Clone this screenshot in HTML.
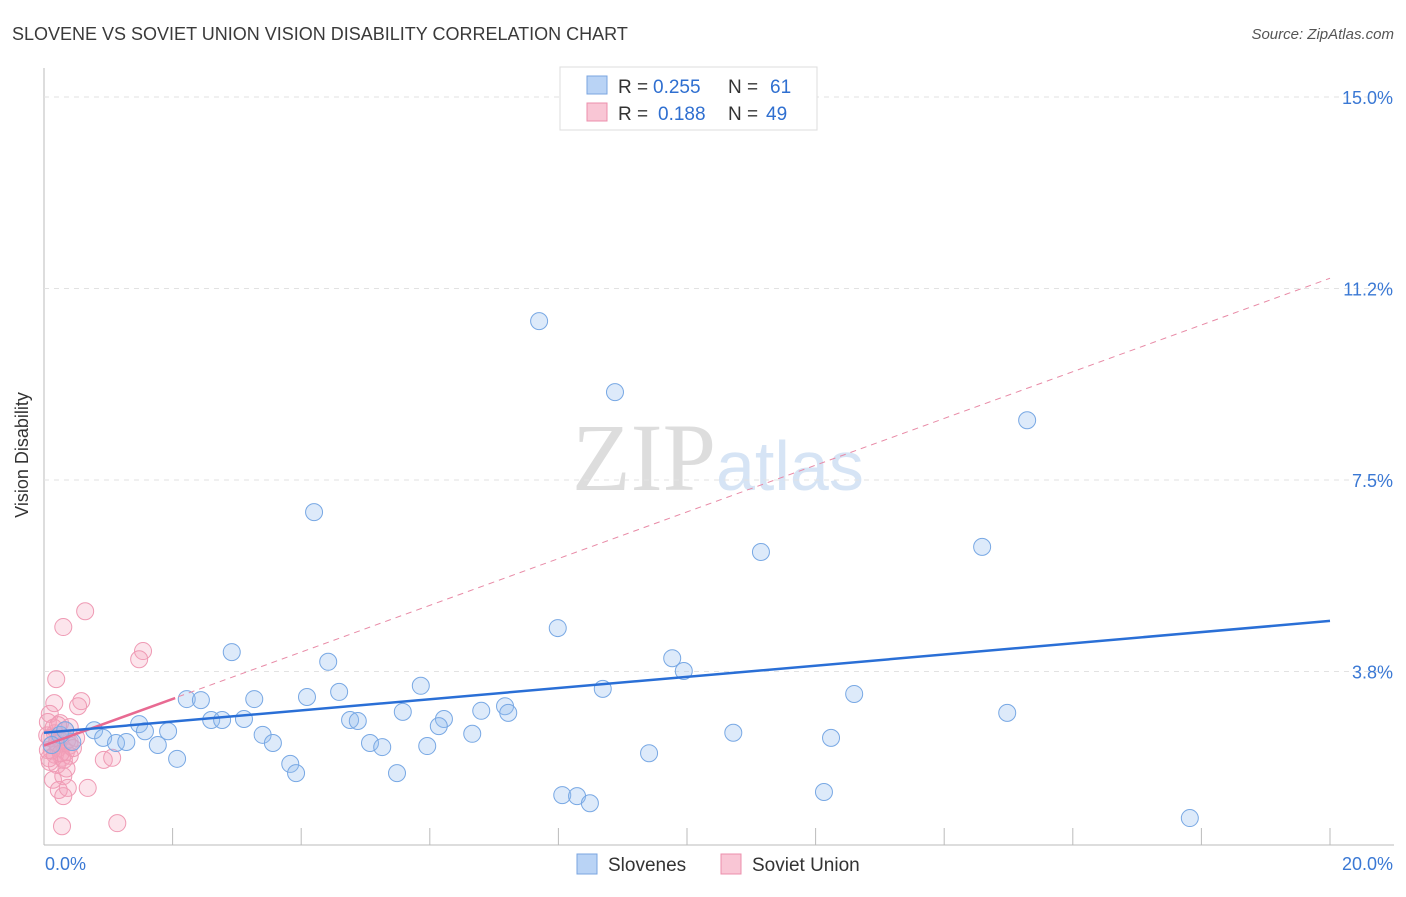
<!DOCTYPE html>
<html><head><meta charset="utf-8"><style>
body{margin:0;background:#fff;font-family:"Liberation Sans",sans-serif}
</style></head><body>
<svg id="c" width="1406" height="892" xmlns="http://www.w3.org/2000/svg">
<text x="12" y="40" font-size="18" fill="#3a3a3a">SLOVENE VS SOVIET UNION VISION DISABILITY CORRELATION CHART</text>
<text x="1394" y="39" font-size="15" fill="#555" font-style="italic" text-anchor="end">Source: ZipAtlas.com</text>
<text x="28" y="455" font-size="18" fill="#333" text-anchor="middle" transform="rotate(-90 28 455)">Vision Disability</text>
<text x="716" y="490" font-size="96" fill="#ddd" font-family="Liberation Serif,serif" text-anchor="end">ZIP</text>
<text x="716" y="490" font-size="70" fill="#d6e4f5">atlas</text>
<g id="grid"></g><g id="pts"></g><g id="lines"></g>
<g>
<rect x="560" y="67" width="257" height="63" fill="#fff" stroke="#ddd"/>
<rect x="587" y="76" width="20" height="18" fill="#b9d3f5" stroke="#7aa5e0"/>
<rect x="587" y="103" width="20" height="18" fill="#f9c6d5" stroke="#ec8fac"/>
<text y="93" font-size="19" fill="#333"><tspan x="618">R =</tspan><tspan x="653" fill="#2f6fd0">0.255</tspan><tspan x="728">N =</tspan><tspan x="770" fill="#2f6fd0">61</tspan></text>
<text y="120" font-size="19" fill="#333"><tspan x="618">R =</tspan><tspan x="658" fill="#2f6fd0">0.188</tspan><tspan x="728">N =</tspan><tspan x="766" fill="#2f6fd0">49</tspan></text>
</g>
<g>
<rect x="577" y="854" width="20" height="20" fill="#b9d3f5" stroke="#7aa5e0"/>
<text x="608" y="871" font-size="19" fill="#333">Slovenes</text>
<rect x="721" y="854" width="20" height="20" fill="#f9c6d5" stroke="#ec8fac"/>
<text x="752" y="871" font-size="19" fill="#333">Soviet Union</text>
</g>
</svg>
<script>
const yTicks=[3.75,7.5,11.25,15];
const yTickLabels=["3.8%","7.5%","11.2%","15.0%"];
const xTicks=[0,2,4,6,8,10,12,14,16,18,20];
const sloveneX=[7.70,8.88,15.29,4.20,11.15,14.59,7.99,2.92,4.42,9.77,9.95,2.22,2.44,3.27,4.09,4.59,5.86,8.69,12.60,7.17,7.22,6.80,5.58,14.98,1.48,0.78,1.57,1.93,2.60,2.77,3.11,4.76,4.88,6.22,6.14,6.66,3.40,3.56,0.92,1.12,1.28,0.44,1.77,5.07,5.26,5.96,10.72,12.24,9.41,2.07,3.83,3.92,5.49,8.06,8.29,8.49,12.13,17.82,0.25,0.12,0.33];
const sloveneY=[10.61,9.22,8.67,6.87,6.09,6.19,4.60,4.13,3.94,4.01,3.76,3.21,3.19,3.21,3.25,3.35,3.47,3.41,3.31,3.07,2.94,2.98,2.96,2.94,2.72,2.60,2.58,2.58,2.80,2.80,2.82,2.80,2.78,2.82,2.68,2.53,2.51,2.35,2.45,2.35,2.37,2.37,2.31,2.35,2.27,2.29,2.55,2.45,2.15,2.04,1.94,1.76,1.76,1.33,1.31,1.17,1.39,0.88,2.51,2.31,2.60];
const sovietX=[0.64,0.30,1.54,1.48,0.19,0.58,0.53,0.16,0.09,0.06,0.25,0.40,0.33,0.17,0.09,0.25,0.40,0.12,0.22,0.34,0.06,0.17,0.28,0.40,0.09,0.20,0.31,0.93,1.06,0.14,0.30,0.23,0.30,0.37,0.68,0.28,1.14,0.40,0.36,0.05,0.12,0.20,0.50,0.45,0.15,0.26,0.08,0.35,0.22];
const sovietY=[4.93,4.62,4.15,3.99,3.60,3.17,3.07,3.13,2.92,2.76,2.74,2.66,2.60,2.54,2.45,2.41,2.37,2.31,2.25,2.17,2.21,2.12,2.06,2.10,1.98,1.92,2.02,2.02,2.06,1.63,1.70,1.43,1.31,1.47,1.47,0.72,0.78,2.30,2.40,2.50,2.20,2.35,2.45,2.25,2.65,2.15,2.05,1.85,2.70];
const X0=44,PX=64.3,Y0=863,PY=51.07;
const sx=v=>X0+v*PX, sy=v=>Y0-v*PY;
const NS="http://www.w3.org/2000/svg";
function mk(t,a,p){const e=document.createElementNS(NS,t);for(const k in a)e.setAttribute(k,a[k]);p.appendChild(e);return e;}
const grid=document.getElementById('grid');
let ax=mk('line',{x1:44,y1:68,x2:44,y2:845,stroke:'#bbb'},grid);


let bx=mk('line',{x1:44,y1:845,x2:1394,y2:845,stroke:'#bbb'},grid);


yTicks.forEach((v,i)=>{
 const g=mk('line',{x1:44,y1:sy(v),x2:1394,y2:sy(v),stroke:'#e2e2e2','stroke-dasharray':'5,5'},grid);
 
 
 const t=mk('text',{x:1393,y:sy(v)+7,'font-size':18,fill:'#3a78d4','text-anchor':'end'},grid);
 t.textContent=yTickLabels[i];
 
 
});
xTicks.forEach(v=>{ if(v===0)return;
 const l=mk('line',{x1:sx(v),y1:828,x2:sx(v),y2:845,stroke:'#bbb'},grid);
 
 
});
let t0=mk('text',{x:45,y:870,'font-size':18,fill:'#3a78d4'},grid);t0.textContent='0.0%';


let t1=mk('text',{x:1393,y:870,'font-size':18,fill:'#3a78d4','text-anchor':'end'},grid);t1.textContent='20.0%';


const pts=document.getElementById('pts');
sovietX.forEach((x,i)=>{
 const c=mk('circle',{cx:sx(x),cy:sy(sovietY[i]),r:8.5,fill:'rgba(244,160,188,0.28)',stroke:'#ef9ab4','stroke-width':1},pts);
 
 
});
sloveneX.forEach((x,i)=>{
 const c=mk('circle',{cx:sx(x),cy:sy(sloveneY[i]),r:8.5,fill:'rgba(150,190,240,0.32)',stroke:'#78a8e4','stroke-width':1},pts);
 
 
});
const lines=document.getElementById('lines');
let pd=mk('line',{x1:sx(0),y1:sy(2.3),x2:sx(20),y2:sy(11.45),stroke:'#e88aa6','stroke-width':1,'stroke-dasharray':'6,5'},lines);


let ps=mk('line',{x1:sx(0),y1:sy(2.3),x2:sx(2.04),y2:sy(3.23),stroke:'#e86a92','stroke-width':2.5},lines);


let bl=mk('line',{x1:sx(0),y1:sy(2.55),x2:sx(20),y2:sy(4.74),stroke:'#2a6fd6','stroke-width':2.5},lines);


</script>
</body></html>
